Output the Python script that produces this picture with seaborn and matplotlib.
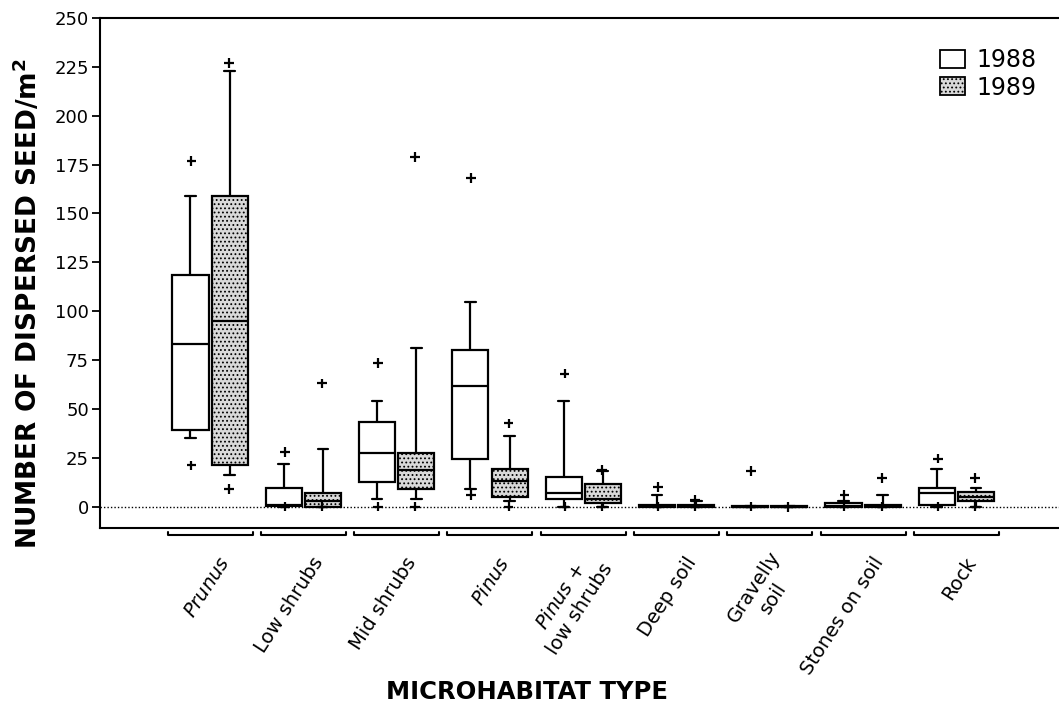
import numpy as np
import pandas as pd
import matplotlib
matplotlib.use("Agg")
import matplotlib.pyplot as plt
import seaborn as sns
from matplotlib.patches import Patch
from matplotlib.transforms import blended_transform_factory, ScaledTranslation

# ---------------- data ----------------
categories = ["Prunus", "Low shrubs", "Mid shrubs", "Pinus", "Pinus + low shrubs",
              "Deep soil", "Gravelly soil", "Stones on soil", "Rock"]
tick_labels = [r"$\it{Prunus}$", "Low shrubs", "Mid shrubs", r"$\it{Pinus}$",
               "$\\it{Pinus}$ +\nlow shrubs", "Deep soil", "Gravelly\nsoil",
               "Stones on soil", "Rock"]
years = ["1988", "1989"]

# 1988 box statistics
whislo_1988 = [35, 0, 4, 9, 0, 0, 0, 0, 0]
q1_1988     = [39, 0.3, 12.5, 24.5, 3.7, 0, 0, 0, 1]
med_1988    = [83, 0.8, 27.5, 61.5, 7, 0.3, 0, 0.5, 7]
q3_1988     = [118.5, 9.5, 43.5, 80, 15, 1, 0.3, 2, 9.5]
whishi_1988 = [159, 21.5, 54, 104.5, 54, 6, 0.5, 2.7, 19]
outliers_1988 = [[177, 21], [28, 0], [73.5, 0], [168, 6], [68, 0],
                 [10, 0], [18, 0], [6, 0], [24.5, 0]]

# 1989 box statistics
whislo_1989 = [16, 0, 4, 3, 0, 0, 0, 0, 0]
q1_1989     = [21, 0, 9, 5, 2, 0, 0, 0, 2.7]
med_1989    = [95, 3, 18.5, 13, 4, 0.3, 0, 0.3, 5]
q3_1989     = [159, 7, 27.5, 19, 11.5, 1, 0.3, 1, 7.5]
whishi_1989 = [223, 29.5, 81, 36, 18, 3, 0.5, 6, 9.5]
outliers_1989 = [[227, 9], [63, 0], [179, 0], [42.5, 0], [18.5, 0],
                 [3.5, 0], [0], [14.5, 0], [14.5, 0]]

yticks = list(range(0, 251, 25))

# ---------------- long-form tables ----------------
rows = []
for yr, stats in (("1988", (whislo_1988, q1_1988, med_1988, q3_1988, whishi_1988)),
                  ("1989", (whislo_1989, q1_1989, med_1989, q3_1989, whishi_1989))):
    for i, cat in enumerate(categories):
        for arr in stats:
            rows.append({"cat": cat, "year": yr, "val": arr[i]})
df = pd.DataFrame(rows)

orows = []
for yr, outs in (("1988", outliers_1988), ("1989", outliers_1989)):
    for i, cat in enumerate(categories):
        for v in outs[i]:
            orows.append({"cat": cat, "year": yr, "val": v})
odf = pd.DataFrame(orows)

# ---------------- style ----------------
sns.set_style("ticks")
plt.rcParams["font.family"] = ["DejaVu Sans"]
plt.rcParams["mathtext.fontset"] = "custom"
plt.rcParams["mathtext.rm"] = "DejaVu Sans"
plt.rcParams["mathtext.it"] = "DejaVu Sans:italic"
plt.rcParams["mathtext.bf"] = "DejaVu Sans:bold"
plt.rcParams["hatch.linewidth"] = 0.8
plt.rcParams["hatch.color"] = "black"
for key in ("text.color", "axes.labelcolor", "xtick.color", "ytick.color", "axes.edgecolor"):
    plt.rcParams[key] = "black"

fig = plt.figure(figsize=(10.59, 7.07), dpi=100)
ax = fig.add_axes([100 / 1059, 1 - 528 / 707, 1 - 100 / 1059, 510 / 707])

ax.axhline(0, color="black", lw=1.0, ls=(0, (1, 1.5)), zorder=0)

sns.boxplot(data=df, x="cat", y="val", hue="year", order=categories, hue_order=years,
            palette={"1988": "white", "1989": "#d9d9d9"}, width=0.84, gap=0.08,
            whis=(0, 100), showfliers=False, linecolor="black", linewidth=1.6,
            legend=False, ax=ax)

for p in ax.patches:
    fc = p.get_facecolor()
    if fc[0] < 0.95:
        p.set_hatch("....")

# narrower whisker caps, as in the reference
for cont in ax.containers:
    caps = getattr(cont, "caps", None)
    if caps is None:
        continue
    for cap in caps:
        xd = np.asarray(cap.get_xdata(), dtype=float)
        c = xd.mean()
        cap.set_xdata(c + (xd - c) * 0.6)

sns.stripplot(data=odf, x="cat", y="val", hue="year", order=categories, hue_order=years,
              palette={"1988": "black", "1989": "black"}, dodge=True, jitter=False,
              marker="+", size=7, linewidth=1.6, legend=False, ax=ax)

# axes
ax.set_xlim(-1.18, 9.1)
ax.set_ylim(-11, 250)
ax.set_yticks(yticks)
ax.set_yticklabels([str(t) for t in yticks], fontsize=13)
ax.tick_params(axis="y", length=6, width=1.3, direction="out", pad=2)
for s in ("left", "bottom", "top"):
    ax.spines[s].set_linewidth(1.5)
    ax.spines[s].set_visible(True)
ax.spines["right"].set_visible(False)

ax.set_xticks(range(len(categories)))
ax.set_xticklabels(tick_labels, rotation=57, ha="right", va="center",
                   rotation_mode="anchor", fontsize=14, multialignment="center")
ax.tick_params(axis="x", length=0, pad=22)
offset = ScaledTranslation(0.16, 0, fig.dpi_scale_trans)
for lbl in ax.get_xticklabels():
    lbl.set_transform(lbl.get_transform() + offset)

# group brackets below the axis
trans = blended_transform_factory(ax.transData, ax.transAxes)
for i in range(len(categories)):
    x0, x1 = i - 0.455, i + 0.455
    ax.plot([x0, x0, x1, x1], [-0.008, -0.014, -0.014, -0.008], transform=trans,
            color="black", lw=1.5, clip_on=False)

ax.set_xlabel("MICROHABITAT TYPE", fontsize=17.5, fontweight="bold")
ax.xaxis.set_label_coords((527 - 100) / 959, -0.298)
ax.set_ylabel(r"NUMBER OF DISPERSED SEED/m$^{\mathbf{2}}$", fontsize=19, fontweight="bold")
ax.yaxis.set_label_coords(-0.059, 0.44)

handles = [Patch(facecolor="white", edgecolor="black", lw=1.3),
           Patch(facecolor="#d9d9d9", edgecolor="black", lw=1.3, hatch="....")]
ax.legend(handles, years, loc="upper right", bbox_to_anchor=(0.977, 0.941),
          frameon=False, fontsize=17, handlelength=1.05, handleheight=0.8,
          handletextpad=0.5, labelspacing=0.15, borderpad=0, borderaxespad=0)

fig.savefig("out.png", dpi=100)
